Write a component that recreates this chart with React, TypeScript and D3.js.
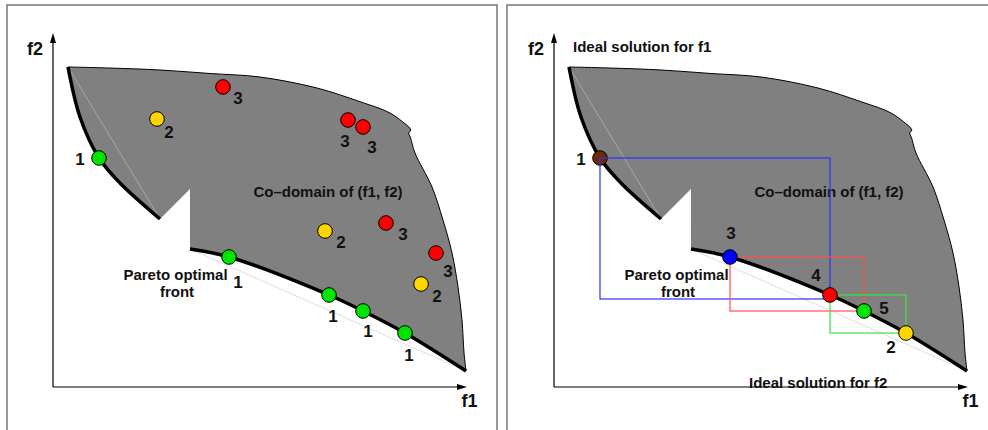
import React from "react";
import * as d3 from "d3";

type P = [number, number];

// ---- Boundary of the co-domain (data units: f1, f2) ----
const topEdge: P[] = [[3.62, 90.4], [13.77, 90.1], [25.85, 89.55], [37.92, 88.56], [50.0, 87.57], [63.77, 84.46], [74.15, 80.59], [81.4, 77.4], [85.99, 73.45]];
const notchTop: P[] = [[85.99, 73.45], [86.47, 72.6], [85.87, 71.75], [86.47, 70.06]];
const rightEdge: P[] = [[86.47, 70.06], [87.44, 66.1], [91.55, 56.5], [94.2, 47.18], [96.38, 37.85], [97.83, 28.25], [98.79, 18.93], [99.28, 9.6], [99.76, 4.52]];
const lowerFront: P[] = [[33.09, 38.98], [42.51, 36.72], [66.67, 25.99], [74.88, 21.47], [85.02, 15.25], [99.76, 4.52]];
const notchBottom: P[] = [[33.09, 38.98], [33.09, 55.93], [25.85, 47.46]];
const upperFront: P[] = [[3.62, 90.4], [6.52, 76.27], [11.11, 64.69], [16.18, 57.63], [25.85, 47.46]];
const upperChord: P[] = [[3.62, 90.4], [25.85, 47.46]];
const lowerChord: P[] = [[33.09, 38.98], [99.76, 4.52]];

// ---- Left panel: solutions with their rank ----
const leftF1 = [11.11, 25.12, 41.06, 71.26, 74.88, 65.7, 80.43, 92.51, 88.89, 42.51, 66.67, 74.88, 85.02];
const leftF2 = [64.69, 75.71, 84.75, 75.42, 73.45, 44.07, 46.33, 37.85, 29.1, 36.72, 25.99, 21.47, 15.25];
const leftRank = ["1", "2", "3", "3", "3", "2", "3", "3", "2", "1", "1", "1", "1"];

// ---- Right panel: Pareto solutions ----
const rightF1 = [11.11, 42.51, 66.67, 74.88, 85.02];
const rightF2 = [64.69, 36.72, 25.99, 21.47, 15.25];
const rightLabels = ["1", "3", "4", "5", "2"];

// ---- Right panel: dominance boxes ----
const boxF1a = [11.11, 42.51, 66.67];
const boxF2a = [64.69, 36.72, 25.99];
const boxF1b = [66.67, 74.88, 85.02];
const boxF2b = [24.86, 21.47, 15.25];

// ---- styles / layout (not data) ----
const rankColor: Record<string, string> = { "1": "#00e400", "2": "#ffd500", "3": "#ff0000" };
const rightColors = ["#6e2b00", "#0000ff", "#ff0000", "#00e400", "#ffd500"];
const boxColors = ["#2f2fff", "#ff5050", "#3fe03f"];
const leftLabelOff: P[] = [[-19, 2], [12, 14], [15, 12], [-3, 21], [9, 21], [16, 12], [17, 12], [12, 18], [16, 13], [9, 25], [4, 22], [5, 21], [4, 22]];
const rightLabelOff: P[] = [[-19, 2], [1, -24], [-14, -19], [20, -2], [-15, 14]];

const FONT = "'Liberation Sans', Arial, Helvetica, sans-serif";
const W = 988, H = 430;

const y = d3.scaleLinear().domain([0, 100]).range([387, 33]);

function Panel({ x0, right }: { x0: number; right: boolean }) {
  const x = d3.scaleLinear().domain([0, 100]).range([x0, x0 + 414]);
  const curve = d3.line<P>().x(d => x(d[0])).y(d => y(d[1])).curve(d3.curveCatmullRom.alpha(0.5));
  const lin = d3.line<P>().x(d => x(d[0])).y(d => y(d[1]));
  const join = (...parts: string[]) => parts.map((p, i) => (i === 0 ? p : p.replace(/^M/, "L"))).join("");
  const region = join(
    curve(topEdge)!, lin(notchTop)!, curve(rightEdge)!,
    curve([...lowerFront].reverse())!, lin(notchBottom)!, curve(upperFront)!
  ) + "Z";
  const outline = join(curve(topEdge)!, lin(notchTop)!, curve(rightEdge)!);
  const lbl = { fontFamily: FONT, fontWeight: 700, fill: "#111" } as const;
  const ax0 = x(0), ay0 = y(0), axTip = x(100), ayTip = y(100);

  const circle = (cx: number, cy: number, fill: string, k: string) => (
    <circle key={k} cx={cx} cy={cy} r={7.3} fill={fill} stroke="#000" strokeWidth={1} />
  );

  return (
    <g>
      <path d={region} fill="#808080" />
      <path d={lin(upperChord)!} stroke="#b8b8b8" strokeWidth={0.7} fill="none" />
      <path d={lin(lowerChord)!} stroke="#cfcfcf" strokeWidth={0.7} fill="none" />
      <path d={outline} stroke="#000" strokeWidth={1} fill="none" />
      <path d={curve(upperFront)!} stroke="#000" strokeWidth={3.5} fill="none" />
      <path d={curve(lowerFront)!} stroke="#000" strokeWidth={3.5} fill="none" />

      <text x={x(66.43)} y={y(53.8)} textAnchor="middle" fontSize={15} {...lbl}>Co–domain of (f1, f2)</text>
      <text x={x(29.59)} y={y(30.2)} textAnchor="middle" fontSize={15} {...lbl}>Pareto optimal</text>
      <text x={x(29.95)} y={y(25.4)} textAnchor="middle" fontSize={15} {...lbl}>front</text>

      {!right && leftF1.map((f1, i) => (
        <g key={"l" + i}>
          {circle(x(f1), y(leftF2[i]), rankColor[leftRank[i]], "c" + i)}
          <text x={x(f1) + leftLabelOff[i][0]} y={y(leftF2[i]) + leftLabelOff[i][1]} textAnchor="middle" dominantBaseline="central" fontSize={17} {...lbl}>{leftRank[i]}</text>
        </g>
      ))}

      {right && (
        <g>
          <text x={x(4.59)} y={y(94.77)} fontSize={15} {...lbl}>Ideal solution for f1</text>
          <text x={x(47.1)} y={y(-0.28)} fontSize={15} {...lbl}>Ideal solution for f2</text>
          {circle(x(rightF1[0]), y(rightF2[0]), rightColors[0], "r0")}
          {boxF1a.map((a, i) => (
            <rect key={"b" + i}
              x={x(a)} y={y(boxF2a[i])}
              width={x(boxF1b[i]) - x(a)} height={y(boxF2b[i]) - y(boxF2a[i])}
              fill="none" stroke={boxColors[i]} strokeWidth={1.2} />
          ))}
          {rightF1.slice(1).map((f1, j) => circle(x(f1), y(rightF2[j + 1]), rightColors[j + 1], "rc" + j))}
          {rightF1.map((f1, i) => (
            <text key={"rl" + i} x={x(f1) + rightLabelOff[i][0]} y={y(rightF2[i]) + rightLabelOff[i][1]} textAnchor="middle" dominantBaseline="central" fontSize={17} {...lbl}>{rightLabels[i]}</text>
          ))}
        </g>
      )}

      {/* axes */}
      <line x1={ax0} y1={ay0} x2={axTip - 8} y2={ay0} stroke="#000" strokeWidth={1.2} />
      <path d={`M${axTip},${ay0}L${axTip - 10},${ay0 - 3}L${axTip - 10},${ay0 + 3}Z`} fill="#000" />
      <line x1={ax0} y1={ay0} x2={ax0} y2={ayTip + 8} stroke="#000" strokeWidth={1.2} />
      <path d={`M${ax0},${ayTip}L${ax0 - 3},${ayTip + 10}L${ax0 + 3},${ayTip + 10}Z`} fill="#000" />
      <text x={ax0 - 18} y={55} textAnchor="middle" fontSize={18} {...lbl}>f2</text>
      <text x={axTip + 2.5} y={406.5} textAnchor="middle" fontSize={18} {...lbl}>f1</text>
    </g>
  );
}

export default function App() {
  return (
    <svg width={W} height={H} style={{ position: "absolute", left: 0, top: 0, background: "#fff" }}>
      <rect x={0} y={0} width={W} height={H} fill="#fff" />
      <rect x={7} y={5} width={490} height={440} fill="none" stroke="#777" strokeWidth={1.5} />
      <rect x={507} y={5} width={490} height={440} fill="none" stroke="#777" strokeWidth={1.5} />
      <Panel x0={53} right={false} />
      <Panel x0={554} right={true} />
    </svg>
  );
}
